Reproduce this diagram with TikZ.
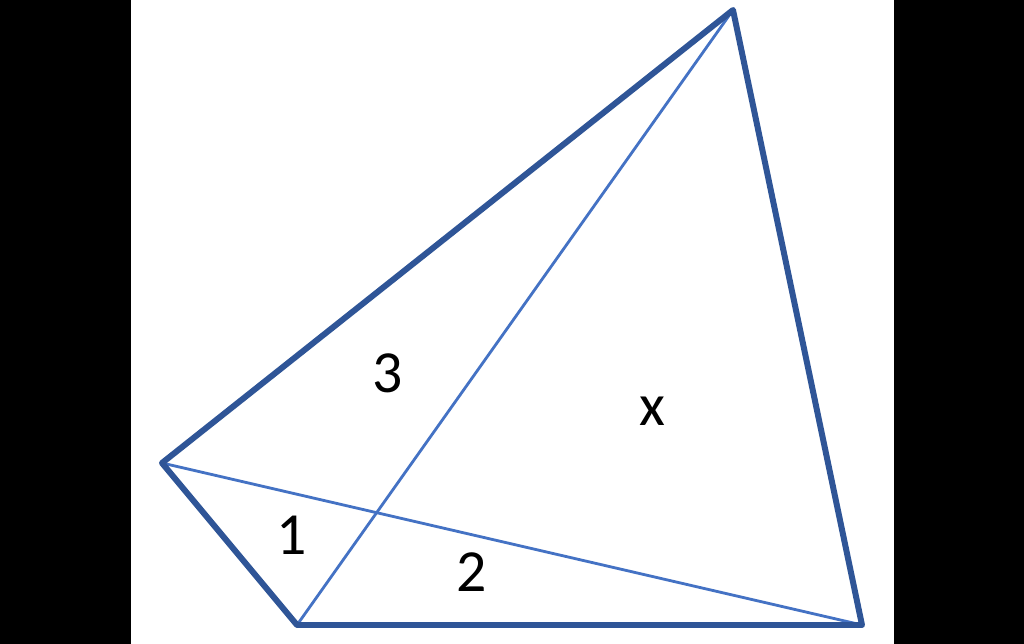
\documentclass[tikz,border=0pt]{standalone}
\usepackage{fontspec}
\setmainfont{Carlito}
\definecolor{edgeblue}{HTML}{2F5597}
\definecolor{diagblue}{HTML}{4472C4}
\tikzset{
  side/.style={edgeblue, line width=3.4pt, line join=round, line cap=round},
  diag/.style={diagblue, line width=1.6pt},
  area/.style={font=\fontsize{34}{34}\selectfont, inner sep=0pt}
}
\begin{document}
\begin{tikzpicture}[x=0.02cm, y=-0.02cm]
    \fill [black] (0,0) rectangle (1024,644);
    \fill [white] (131,0) rectangle (894,644);
    \coordinate (A) at (162,463);
    \coordinate (B) at (297,625);
    \coordinate (C) at (862,625);
    \coordinate (D) at (733,10);
    \draw [diag] (A)--(C);
    \draw [diag] (B)--(D);
    \draw [side] (A)--(D)--(C)--(B)--cycle;
    \node [area] (n3) at (388,373) {3};
    \node [area] (nx) at (652,411) {x};
    \node [area] (n1) at (292,535) {1};
    \node [area] (n2) at (472,572) {2};
  \end{tikzpicture}
\end{document}
